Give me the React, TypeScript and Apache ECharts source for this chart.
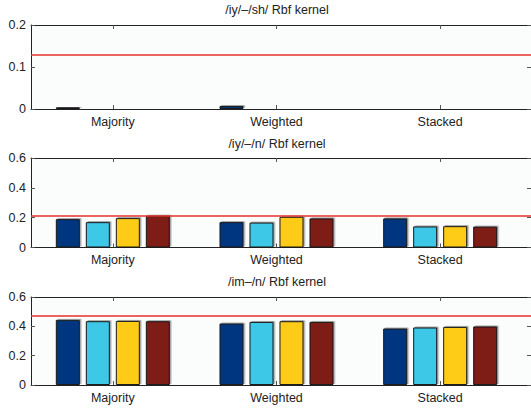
import React, { useEffect, useRef } from "react";
import * as echarts from "echarts";

const categories = ["Majority", "Weighted", "Stacked"];
const panelTitles = ["/iy/\u2013/sh/ Rbf kernel", "/iy/\u2013/n/ Rbf kernel", "/im\u2013/n/ Rbf kernel"];
const yMaxes = [0.2, 0.6, 0.6];
const yIntervals = [0.1, 0.2, 0.2];
const baselines = [0.13, 0.211, 0.471];

// panel 1: /iy/-/sh/
const iyShBlue = [0.004, 0.007, 0.002];
const iyShCyan = [0.0005, 0.0005, 0.0005];
const iyShYellow = [0.0005, 0.0005, 0.001];
const iyShRed = [0.0005, 0.0005, 0.0005];
// panel 2: /iy/-/n/
const iyNBlue = [0.19, 0.17, 0.195];
const iyNCyan = [0.17, 0.167, 0.141];
const iyNYellow = [0.197, 0.206, 0.143];
const iyNRed = [0.213, 0.195, 0.14];
// panel 3: /im-/n/
const imNBlue = [0.444, 0.419, 0.385];
const imNCyan = [0.435, 0.43, 0.392];
const imNYellow = [0.437, 0.435, 0.396];
const imNRed = [0.435, 0.43, 0.399];

const panelValues = [
  [iyShBlue, iyShCyan, iyShYellow, iyShRed],
  [iyNBlue, iyNCyan, iyNYellow, iyNRed],
  [imNBlue, imNCyan, imNYellow, imNRed],
];
const colors = ["#03357f", "#3cc8e8", "#fecb15", "#7e1a17"];

const gridTops = [25, 158, 297];
const gridHeights = [84, 89.5, 88];
const titleTops = [3, 137, 275];
const X_MIN = 0.5;
const X_MAX = 3.555;
const FONT = "Liberation Sans, Arial, sans-serif";

export default function App() {
  const ref = useRef<HTMLDivElement>(null);
  useEffect(() => {
    if (!ref.current) return;
    const chart = echarts.init(ref.current, null, { renderer: "svg" });
    const grids: any[] = [];
    const xAxes: any[] = [];
    const yAxes: any[] = [];
    const series: any[] = [];
    const titles: any[] = [];
    const tickVals = categories.map((_, i) => i + 1);
    for (let p = 0; p < 3; p++) {
      grids.push({
        left: 31,
        width: 501,
        top: gridTops[p],
        height: gridHeights[p],
        show: true,
        backgroundColor: "#fbfdfd",
        borderWidth: 0,
      });
      titles.push({
        text: panelTitles[p],
        left: 277,
        textAlign: "center",
        top: titleTops[p],
        padding: 0,
        textStyle: { fontSize: 12.5, fontWeight: "normal", color: "#222", fontFamily: FONT },
      });
      const axisLine = { show: true, onZero: false, lineStyle: { color: "#222", width: 1 } };
      xAxes.push({
        type: "value",
        gridIndex: p,
        min: X_MIN,
        max: X_MAX,
        position: "bottom",
        axisLine,
        axisTick: { show: true, inside: true, length: 4, customValues: tickVals, lineStyle: { color: "#555" } },
        axisLabel: {
          show: true,
          customValues: tickVals,
          formatter: (v: number) => categories[Math.round(v) - 1] ?? "",
          fontSize: 12.5,
          color: "#222",
          fontFamily: FONT,
          margin: 6,
        },
        splitLine: { show: false },
      });
      xAxes.push({
        type: "value",
        gridIndex: p,
        min: X_MIN,
        max: X_MAX,
        position: "top",
        axisLine,
        axisTick: { show: true, inside: true, length: 4, customValues: tickVals, lineStyle: { color: "#555" } },
        axisLabel: { show: false },
        splitLine: { show: false },
      });
      yAxes.push({
        type: "value",
        gridIndex: p,
        min: 0,
        max: yMaxes[p],
        interval: yIntervals[p],
        position: "left",
        axisLine,
        axisTick: { show: true, inside: true, length: 4, lineStyle: { color: "#555" } },
        axisLabel: { fontSize: 12.5, color: "#222", fontFamily: FONT, margin: 5 },
        splitLine: { show: false },
      });
      yAxes.push({
        type: "value",
        gridIndex: p,
        min: 0,
        max: yMaxes[p],
        interval: yIntervals[p],
        position: "right",
        axisLine,
        axisTick: { show: true, inside: true, length: 4, lineStyle: { color: "#555" } },
        axisLabel: { show: false },
        splitLine: { show: false },
      });
      panelValues[p].forEach((vals, s) => {
        const ser: any = {
          type: "bar",
          xAxisIndex: p * 2,
          yAxisIndex: p * 2,
          barWidth: 24,
          barGap: "25%",
          data: vals.map((v, i) => [i + 1, v]),
          itemStyle: {
            color: colors[s],
            borderColor: "#1a1a1a",
            borderWidth: 1,
            shadowColor: "rgba(0,0,0,0.35)",
            shadowOffsetX: 1.5,
            shadowOffsetY: -1,
            shadowBlur: 0,
          },
          silent: true,
        };
        if (s === 0) {
          ser.markLine = {
            silent: true,
            symbol: "none",
            label: { show: false },
            lineStyle: { color: "#e8322c", width: 1.5, type: "solid" },
            data: [{ yAxis: baselines[p] }],
          };
        }
        series.push(ser);
      });
    }
    chart.setOption({
      animation: false,
      backgroundColor: "#ffffff",
      title: titles,
      grid: grids,
      xAxis: xAxes,
      yAxis: yAxes,
      series,
    });
    return () => chart.dispose();
  }, []);
  return (
    <div
      ref={ref}
      style={{ position: "fixed", left: 0, top: 0, width: 531, height: 408, background: "#fff" }}
    />
  );
}
